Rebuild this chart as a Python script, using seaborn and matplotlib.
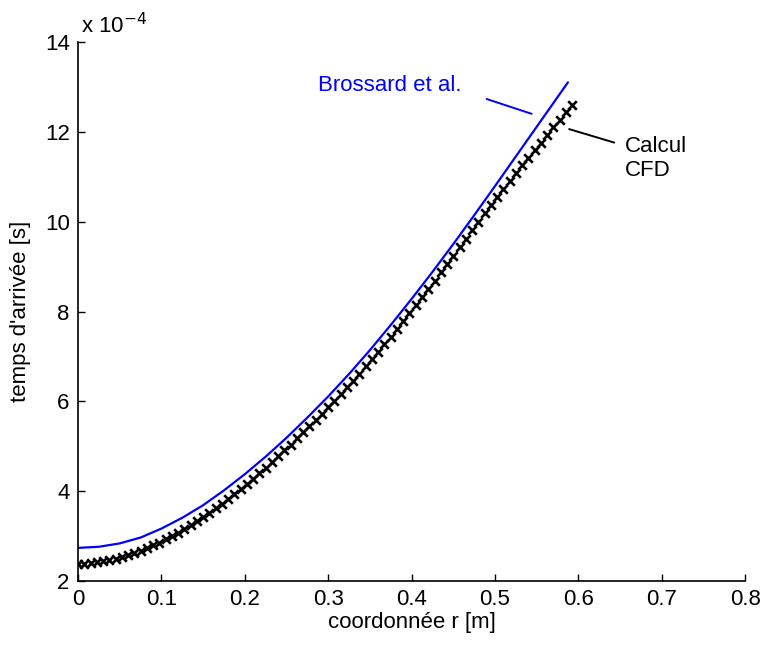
import numpy as np
import pandas as pd
import matplotlib
matplotlib.use('Agg')
import matplotlib.pyplot as plt
import seaborn as sns

# Brossard et al. (temps en 1e-4 s)
r_brossard = [0.0, 0.025, 0.05, 0.075, 0.1, 0.125, 0.15, 0.175, 0.2, 0.225,
              0.25, 0.275, 0.3, 0.325, 0.35, 0.375, 0.4, 0.425, 0.45, 0.475,
              0.5, 0.525, 0.55, 0.575, 0.5875]
t_brossard = [2.74, 2.765, 2.84, 2.97, 3.17, 3.41, 3.69, 4.02, 4.38, 4.77,
              5.19, 5.64, 6.11, 6.61, 7.14, 7.70, 8.28, 8.88, 9.50, 10.14,
              10.79, 11.45, 12.11, 12.77, 13.10]

# Calcul CFD (temps en 1e-4 s)
r_cfd = [0.0, 0.0075, 0.015, 0.0225, 0.03, 0.0375, 0.045, 0.0525, 0.06, 0.0675,
         0.075, 0.0825, 0.09, 0.0975, 0.105, 0.1125, 0.12, 0.1275, 0.135, 0.1425,
         0.15, 0.1575, 0.165, 0.1725, 0.18, 0.1875, 0.195, 0.2025, 0.21, 0.2175,
         0.225, 0.2325, 0.24, 0.2475, 0.255, 0.2625, 0.27, 0.2775, 0.285, 0.2925,
         0.3, 0.3075, 0.315, 0.3225, 0.33, 0.3375, 0.345, 0.3525, 0.36, 0.3675,
         0.375, 0.3825, 0.39, 0.3975, 0.405, 0.4125, 0.42, 0.4275, 0.435, 0.4425,
         0.45, 0.4575, 0.465, 0.4725, 0.48, 0.4875, 0.495, 0.5025, 0.51, 0.5175,
         0.525, 0.5325, 0.54, 0.5475, 0.555, 0.5625, 0.57, 0.5775, 0.585, 0.5925]
t_cfd = [2.38, 2.39, 2.40, 2.42, 2.44, 2.47, 2.50, 2.54, 2.58, 2.63,
         2.68, 2.74, 2.80, 2.86, 2.93, 3.01, 3.08, 3.16, 3.25, 3.33,
         3.42, 3.52, 3.62, 3.72, 3.82, 3.94, 4.05, 4.16, 4.28, 4.40,
         4.52, 4.65, 4.78, 4.91, 5.04, 5.18, 5.31, 5.45, 5.59, 5.73,
         5.87, 6.02, 6.16, 6.31, 6.46, 6.62, 6.78, 6.94, 7.10, 7.27,
         7.44, 7.62, 7.79, 7.97, 8.15, 8.33, 8.51, 8.69, 8.87, 9.06,
         9.24, 9.43, 9.62, 9.81, 10.00, 10.19, 10.37, 10.56, 10.73, 10.91,
         11.08, 11.25, 11.42, 11.59, 11.76, 11.93, 12.10, 12.27, 12.43, 12.60]

x_ticks = [0, 0.1, 0.2, 0.3, 0.4, 0.5, 0.6, 0.7, 0.8]
x_tick_labels = ['0', '0.1', '0.2', '0.3', '0.4', '0.5', '0.6', '0.7', '0.8']
y_ticks = [2, 4, 6, 8, 10, 12, 14]
y_tick_labels = ['2', '4', '6', '8', '10', '12', '14']

df_b = pd.DataFrame({'r': r_brossard, 't': t_brossard})
df_c = pd.DataFrame({'r': r_cfd, 't': t_cfd})

sns.set_style('ticks')
plt.rcParams['font.family'] = ['Liberation Sans', 'DejaVu Sans']
plt.rcParams['xtick.direction'] = 'in'
plt.rcParams['ytick.direction'] = 'in'
plt.rcParams['text.color'] = 'black'
plt.rcParams['axes.labelcolor'] = 'black'

fig = plt.figure(figsize=(7.65, 6.45), dpi=100)
ax = fig.add_axes([0.102, 0.099, 0.872, 0.836])

sns.lineplot(data=df_b, x='r', y='t', ax=ax, color='#0000ff', linewidth=1.6, sort=False)
sns.scatterplot(data=df_c, x='r', y='t', ax=ax, color='black', marker='x',
                s=38, linewidth=1.9, zorder=3)

ax.set_xlim(0, 0.8)
ax.set_ylim(2, 14)
ax.set_xticks(x_ticks)
ax.set_xticklabels(x_tick_labels)
ax.set_yticks(y_ticks)
ax.set_yticklabels(y_tick_labels)
ax.tick_params(labelsize=16, length=5, width=1, colors='black', pad=6)
for s in ['left', 'bottom']:
    ax.spines[s].set_linewidth(1.2)
    ax.spines[s].set_color('black')
sns.despine(ax=ax)

ax.set_xlabel('coordonnée r [m]', fontsize=16, labelpad=1, color='black')
ax.set_ylabel("temps d'arrivée [s]", fontsize=16, labelpad=10, color='black')
ax.text(0.005, 1.006, r'x 10$^{-4}$', transform=ax.transAxes, fontsize=16,
        ha='left', va='bottom', color='black')

# annotations
ax.text(0.288, 13.02, 'Brossard et al.', color='#0000ff', fontsize=16, va='center')
ax.plot([0.490, 0.544], [12.73, 12.40], color='#0000ff', linewidth=1.4)
ax.text(0.656, 11.4, 'Calcul\nCFD', color='black', fontsize=16, va='center',
        linespacing=1.2)
ax.plot([0.589, 0.643], [12.06, 11.76], color='black', linewidth=1.4)

plt.savefig('out.png', dpi=100)
